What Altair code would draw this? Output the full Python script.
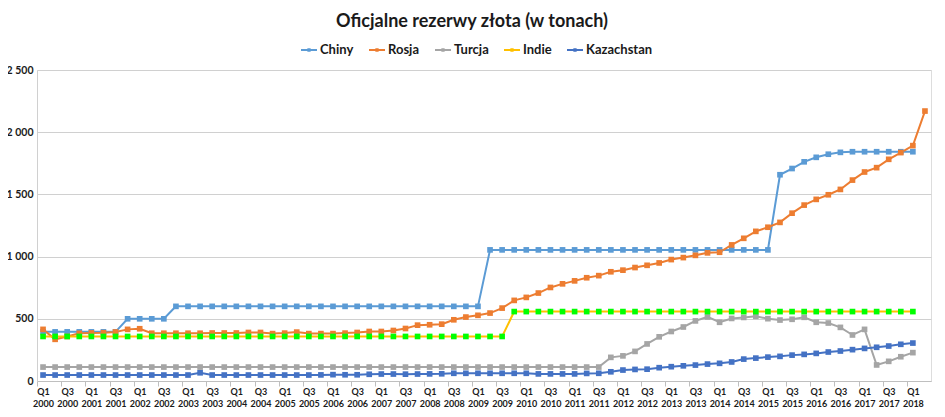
import altair as alt
import pandas as pd

years = list(range(2000, 2019))
quarters = [f"Q{q} {y}" for y in years for q in (1, 2, 3, 4)][:74]  # Q1 2000 .. Q2 2018

series_names = ["Chiny", "Rosja", "Turcja", "Indie", "Kazachstan"]
line_colors = ["#5B9BD5", "#ED7D31", "#A5A5A5", "#FFC000", "#4472C4"]
marker_colors = ["#5B9BD5", "#ED7D31", "#A5A5A5", "#00FF00", "#4472C4"]

chiny = [395, 395, 395, 395, 395, 395, 395, 500, 500, 500, 500, 600, 600, 600, 600, 600,
         600, 600, 600, 600, 600, 600, 600, 600, 600, 600, 600, 600, 600, 600, 600, 600,
         600, 600, 600, 600, 600, 1054, 1054, 1054, 1054, 1054, 1054, 1054, 1054, 1054,
         1054, 1054, 1054, 1054, 1054, 1054, 1054, 1054, 1054, 1054, 1054, 1054, 1054,
         1054, 1054, 1658, 1708, 1762, 1798, 1823, 1838, 1843, 1843, 1843, 1843, 1843, 1843]

rosja = [415, 335, 358, 383, 386, 388, 394, 415, 420, 384, 384, 384, 384, 384, 386, 386,
         386, 390, 390, 381, 385, 393, 381, 381, 381, 385, 390, 398, 398, 406, 422, 449,
         452, 457, 492, 514, 528, 546, 586, 648, 672, 707, 752, 781, 805, 830, 847, 878,
         891, 912, 930, 949, 976, 992, 1010, 1030, 1035, 1094, 1147, 1203, 1236, 1275,
         1349, 1414, 1460, 1497, 1540, 1615, 1680, 1715, 1782, 1836, 1892, 2170]

turcja = [112, 112, 112, 112, 112, 112, 112, 112, 112, 112, 112, 112, 112, 112, 112, 112,
          112, 112, 112, 112, 112, 112, 112, 112, 112, 112, 112, 112, 112, 112, 112, 112,
          112, 112, 112, 112, 112, 112, 112, 112, 112, 112, 112, 112, 112, 112, 112, 190,
          202, 238, 298, 355, 398, 434, 483, 515, 472, 503, 511, 520, 501, 490, 496, 512,
          472, 466, 431, 370, 415, 129, 158, 195, 228]

indie = [358, 358, 358, 358, 358, 358, 358, 358, 358, 358, 358, 358, 358, 358, 358, 358,
         358, 358, 358, 358, 358, 358, 358, 358, 358, 358, 358, 358, 358, 358, 358, 358,
         358, 358, 358, 358, 358, 358, 358, 558, 558, 558, 558, 558, 558, 558, 558, 558,
         558, 558, 558, 558, 558, 558, 558, 558, 558, 558, 558, 558, 558, 558, 558, 558,
         558, 558, 558, 558, 558, 558, 558, 558, 558]

kazachstan = [48, 48, 48, 48, 48, 48, 48, 48, 48, 48, 48, 48, 48, 66, 48, 48,
              48, 48, 48, 48, 48, 48, 48, 49, 51, 50, 50, 54, 56, 56, 55, 56,
              57, 58, 62, 62, 62, 62, 62, 62, 62, 57, 57, 57, 57, 61, 62, 74,
              88, 93, 95, 107, 115, 122, 128, 136, 142, 153, 176, 184, 192, 198,
              208, 214, 222, 233, 241, 252, 262, 271, 281, 295, 305]

rows = []
for name, vals in zip(series_names, [chiny, rosja, turcja, indie, kazachstan]):
    for i, v in enumerate(vals):
        rows.append({"kwartal": quarters[i], "kraj": name, "tony": v, "ord": series_names.index(name)})
df = pd.DataFrame(rows)

FONT = "Lato"
TXT = "#1a1a1a"

x_enc = alt.X(
    "kwartal:O",
    sort=quarters,
    scale=alt.Scale(type="point", domain=quarters, padding=0.5),
    axis=alt.Axis(
        values=quarters[::2],
        labelExpr="split(datum.value, ' ')",
        labelAngle=0,
        labelOverlap=False,
        labelBound=False,
        labelFont=FONT,
        labelFontSize=9,
        labelFontWeight="bold",
        labelColor=TXT,
        labelLineHeight=12,
        labelPadding=1,
        tickOffset=-6,
        labelOffset=6,
        tickSize=5,
        tickColor="#BFBFBF",
        domainColor="#BFBFBF",
        grid=False,
        title=None,
    ),
)
y_enc = alt.Y(
    "tony:Q",
    scale=alt.Scale(domain=[0, 2500], nice=False),
    axis=alt.Axis(
        values=[0, 500, 1000, 1500, 2000, 2500],
        labelExpr="replace(format(datum.value, ','), ',', ' ')",
        labelFont=FONT,
        labelFontSize=10.5,
        labelFontWeight="bold",
        labelColor=TXT,
        labelPadding=4,
        tickSize=0,
        domainColor="#D0D0D0",
        gridColor="#D0D0D0",
        title=None,
    ),
)

lines = alt.Chart(df).mark_line(strokeWidth=2).encode(
    x=x_enc,
    y=y_enc,
    stroke=alt.Stroke(
        "kraj:N",
        scale=alt.Scale(domain=series_names, range=line_colors),
        legend=alt.Legend(
            title=None,
            orient="none",
            legendX=263,
            legendY=-29,
            direction="horizontal",
            symbolType="M-1,0H1M-0.08,-0.08H0.08V0.08H-0.08Z",
            symbolSize=256,
            symbolStrokeWidth=2,
            labelFont=FONT,
            labelFontSize=13,
            labelFontWeight="bold",
            labelColor=TXT,
            labelOffset=2,
            columnPadding=11,
            padding=0,
        ),
        sort=series_names,
    ),
    order="ord:Q",
)

points = alt.Chart(df).mark_square(size=32, opacity=1).encode(
    x=x_enc,
    y=y_enc,
    fill=alt.Fill("kraj:N", scale=alt.Scale(domain=series_names, range=marker_colors), legend=None),
)

chart = (
    alt.layer(lines, points)
    .properties(
        width=894,
        height=311,
        padding={"left": 29, "top": 62, "right": 6, "bottom": 28},
        autosize=alt.AutoSizeParams(type="none"),
        title=alt.TitleParams(
            "Oficjalne rezerwy złota (w tonach)",
            font=FONT,
            fontSize=18,
            fontWeight="bold",
            color=TXT,
            anchor="middle",
            dx=-12,
            offset=10,
        ),
    )
    .configure_view(stroke=None)
    .configure(background="white")
)

chart.save("out.html", embed_options={"renderer": "svg", "actions": False})
